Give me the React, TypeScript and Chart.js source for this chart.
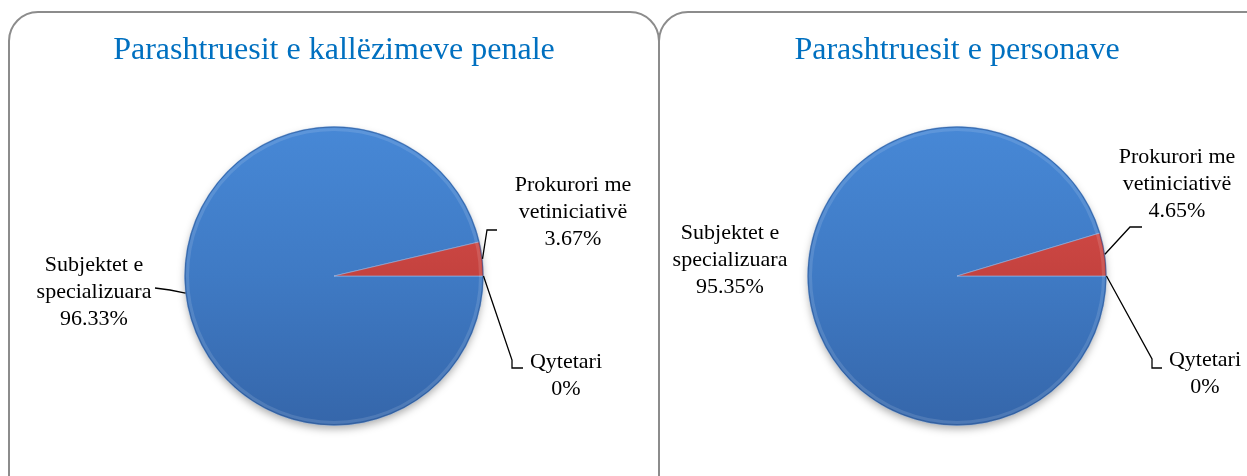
import React, { useEffect, useRef } from "react";
import { Chart, registerables } from "chart.js";

Chart.register(...registerables);

// ---------- data ----------
const categories = ["Subjektet e specializuara", "Prokurori me vetiniciativë", "Qytetari"];
const labelLines = [["Subjektet e", "specializuara"], ["Prokurori me", "vetiniciativë"], ["Qytetari"]];
const penaleValues = [96.33, 3.67, 0];
const personaveValues = [95.35, 4.65, 0];
const chartTitles = ["Parashtruesit e kallëzimeve penale", "Parashtruesit e personave"];

// ---------- styles ----------
const FONT = "'Liberation Serif', 'DejaVu Serif', serif";
const TITLE_COLOR = "#0070C0";
const LINE_H = 27;

type Spec = { dx: number; dy: number; leader: number[][] | null };

const layoutLeft: Spec[] = [
  { dx: -240, dy: -11, leader: [[-164, 14], [-179, 12]] },
  { dx: 239, dy: -91, leader: [[153, -46], [163, -46]] },
  { dx: 232, dy: 86, leader: [[178, 84], [178, 92], [189, 92]] },
];
const layoutRight: Spec[] = [
  { dx: -227, dy: -43, leader: null },
  { dx: 220, dy: -119, leader: [[173, -49], [185, -49]] },
  { dx: 248, dy: 84, leader: [[195, 83], [195, 92], [205, 92]] },
];

function sliceFill(c: any) {
  const chart = c.chart;
  const area = chart.chartArea;
  const i = c.dataIndex;
  if (!area) return i === 1 ? "#c0504d" : "#4080cc";
  const g = chart.ctx.createLinearGradient(0, area.top, 0, area.bottom);
  if (i === 1) {
    g.addColorStop(0, "#e0524e");
    g.addColorStop(1, "#a8322f");
  } else {
    g.addColorStop(0, "#4788d6");
    g.addColorStop(0.5, "#3f7ac4");
    g.addColorStop(1, "#3566aa");
  }
  return g;
}

function makePlugin(title: string, specs: Spec[]) {
  return {
    id: "pieDecor",
    beforeDatasetsDraw(chart: any) {
      const arc = chart.getDatasetMeta(0).data[0];
      if (!arc) return;
      const { x, y, outerRadius } = arc.getProps(["x", "y", "outerRadius"], true);
      const ctx = chart.ctx;
      ctx.save();
      ctx.shadowColor = "rgba(0,0,0,0.35)";
      ctx.shadowBlur = 8;
      ctx.shadowOffsetY = 4;
      ctx.fillStyle = "#3a6cb0";
      ctx.beginPath();
      ctx.arc(x, y, outerRadius - 1, 0, Math.PI * 2);
      ctx.fill();
      ctx.restore();
    },
    afterDatasetsDraw(chart: any) {
      const meta = chart.getDatasetMeta(0);
      const ds = chart.data.datasets[0];
      const ctx = chart.ctx;
      const first = meta.data[0];
      if (!first) return;
      const c0 = first.getProps(["x", "y", "outerRadius"], true);
      // rim
      ctx.save();
      ctx.strokeStyle = "rgba(255,255,255,0.12)";
      ctx.lineWidth = 3;
      ctx.beginPath();
      ctx.arc(c0.x, c0.y, c0.outerRadius - 3, 0, Math.PI * 2);
      ctx.stroke();
      ctx.strokeStyle = "rgba(40,80,140,0.6)";
      ctx.lineWidth = 1;
      ctx.beginPath();
      ctx.arc(c0.x, c0.y, c0.outerRadius - 0.5, 0, Math.PI * 2);
      ctx.stroke();
      ctx.restore();

      // title
      ctx.save();
      ctx.fillStyle = TITLE_COLOR;
      ctx.font = `32px ${FONT}`;
      ctx.textAlign = "center";
      ctx.textBaseline = "middle";
      ctx.fillText(title, c0.x, 51);
      ctx.restore();

      // labels
      ctx.save();
      ctx.font = `22px ${FONT}`;
      ctx.fillStyle = "#000";
      ctx.textAlign = "center";
      ctx.textBaseline = "middle";
      ctx.strokeStyle = "#000";
      ctx.lineWidth = 1.3;
      meta.data.forEach((arc: any, i: number) => {
        const p = arc.getProps(["x", "y", "startAngle", "endAngle", "outerRadius"], true);
        const spec = specs[i];
        if (!spec) return;
        const mid = (p.startAngle + p.endAngle) / 2;
        if (spec.leader) {
          ctx.beginPath();
          ctx.moveTo(p.x + p.outerRadius * Math.cos(mid), p.y + p.outerRadius * Math.sin(mid));
          spec.leader.forEach((pt) => ctx.lineTo(p.x + pt[0], p.y + pt[1]));
          ctx.stroke();
        }
        const lines = [...labelLines[i], String(ds.data[i]) + "%"];
        lines.forEach((ln, k) => {
          ctx.fillText(ln, p.x + spec.dx, p.y + spec.dy + k * LINE_H);
        });
      });
      ctx.restore();
    },
  };
}

function PieChart(props: {
  values: number[];
  title: string;
  specs: Spec[];
  left: number;
  width: number;
  padding: { left: number; right: number; top: number; bottom: number };
}) {
  const ref = useRef<HTMLCanvasElement | null>(null);
  useEffect(() => {
    if (!ref.current) return;
    const chart = new Chart(ref.current, {
      type: "pie",
      data: {
        labels: categories,
        datasets: [
          {
            data: props.values,
            backgroundColor: sliceFill as any,
            borderColor: "rgba(150,185,230,0.6)",
            borderWidth: 1,
          },
        ],
      },
      options: {
        responsive: false,
        animation: false,
        rotation: 90,
        layout: { padding: props.padding },
        plugins: {
          legend: { display: false },
          title: { display: false },
          tooltip: { enabled: false },
        },
      },
      plugins: [makePlugin(props.title, props.specs)],
    });
    return () => chart.destroy();
  }, []);
  return (
    <canvas
      ref={ref}
      width={props.width}
      height={476}
      style={{ position: "absolute", left: props.left, top: 0, width: props.width, height: 476, zIndex: 2 }}
    />
  );
}

const panelStyle = (left: number, width: number): React.CSSProperties => ({
  position: "absolute",
  left,
  top: 11,
  width,
  height: 520,
  boxSizing: "border-box",
  border: "2px solid #8c8c8c",
  borderRadius: 30,
  background: "#fff",
  zIndex: 1,
});

export default function App() {
  return (
    <div style={{ position: "absolute", left: 0, top: 0, width: 1247, height: 476, overflow: "hidden", background: "#fff" }}>
      <div style={panelStyle(8, 652)} />
      <div style={panelStyle(658, 620)} />
      <PieChart
        values={penaleValues}
        title={chartTitles[0]}
        specs={layoutLeft}
        left={9}
        width={650}
        padding={{ left: 175, right: 175, top: 126, bottom: 50 }}
      />
      <PieChart
        values={personaveValues}
        title={chartTitles[1]}
        specs={layoutRight}
        left={659}
        width={588}
        padding={{ left: 148, right: 140, top: 126, bottom: 50 }}
      />
    </div>
  );
}
